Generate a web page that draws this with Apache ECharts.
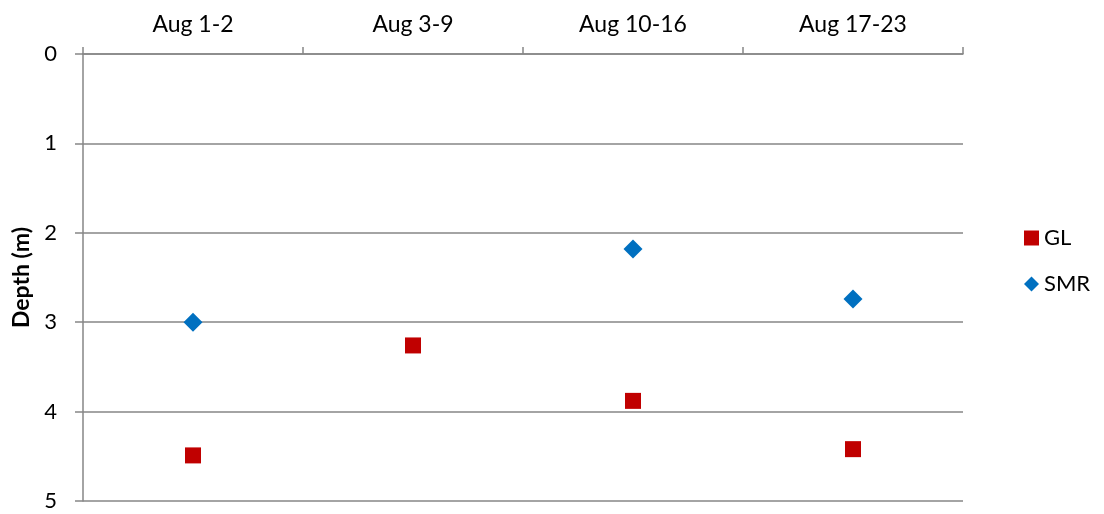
<!DOCTYPE html>
<html>
<head>
<meta charset="utf-8">
<script src="https://cdn.jsdelivr.net/npm/echarts@6/dist/echarts.min.js"></script>
<style>html,body{margin:0;padding:0;background:#fff}#c{width:1104px;height:514px}</style>
</head>
<body>
<div id="c"></div>
<script>
const categories = ['Aug 1-2', 'Aug 3-9', 'Aug 10-16', 'Aug 17-23'];
const glDepth = [4.49, 3.26, 3.88, 4.42];
const smrDepth = [3.0, null, 2.18, 2.74];
const yTicks = [0, 1, 2, 3, 4, 5];

const FONT = 'Lato, "Open Sans", sans-serif';
const GRAY = '#868686';
const chart = echarts.init(document.getElementById('c'));
chart.setOption({
  animation: false,
  textStyle: { fontFamily: FONT },
  grid: { left: 83, right: 141, top: 54, bottom: 13 },
  legend: {
    orient: 'vertical',
    left: 1019,
    top: 222,
    itemWidth: 15,
    itemHeight: 15,
    itemGap: 24,
    textStyle: { fontSize: 22, color: '#000', fontFamily: FONT },
    data: [
      { name: 'GL', icon: 'rect' },
      { name: 'SMR', icon: 'diamond' }
    ]
  },
  xAxis: {
    type: 'category',
    position: 'top',
    data: categories,
    boundaryGap: true,
    axisLine: { lineStyle: { color: GRAY, width: 1.5 } },
    axisTick: { show: true, length: 7, lineStyle: { color: GRAY, width: 1.5 } },
    axisLabel: { color: '#000', fontSize: 23, margin: 18, fontFamily: FONT },
    splitLine: { show: false }
  },
  yAxis: {
    type: 'value',
    inverse: true,
    min: yTicks[0],
    max: yTicks[yTicks.length - 1],
    interval: 1,
    name: 'Depth (m)',
    nameLocation: 'middle',
    nameGap: 49,
    nameTextStyle: { fontSize: 23, fontWeight: 'bold', color: '#000', fontFamily: FONT },
    axisLine: { show: true, lineStyle: { color: GRAY, width: 1.5 } },
    axisTick: { show: true, length: 8, lineStyle: { color: GRAY, width: 1.5 } },
    axisLabel: { color: '#000', fontSize: 22, margin: 26, fontFamily: FONT },
    splitLine: { show: true, lineStyle: { color: GRAY, width: 1.5 } }
  },
  series: [
    {
      name: 'GL',
      type: 'scatter',
      symbol: 'rect',
      symbolSize: 16,
      itemStyle: { color: '#C00000', opacity: 1 },
      data: glDepth
    },
    {
      name: 'SMR',
      type: 'scatter',
      symbol: 'diamond',
      symbolSize: 19,
      itemStyle: { color: '#0070C0', opacity: 1 },
      data: smrDepth
    }
  ]
});
</script>
</body>
</html>
